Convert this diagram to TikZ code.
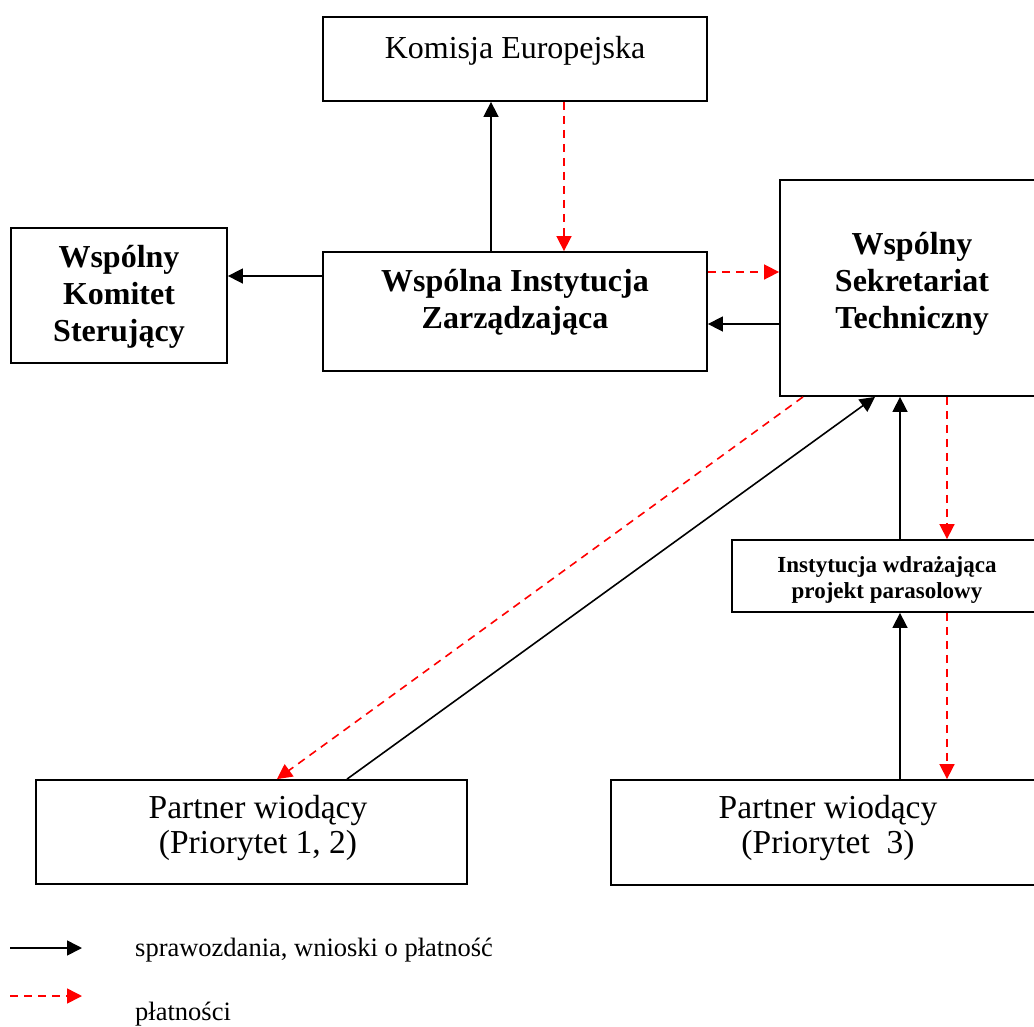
\documentclass[tikz,border=0pt]{standalone}
\usepackage{fontspec}
\setmainfont{Liberation Serif}
\usetikzlibrary{arrows.meta}
\tikzset{
  box/.style={draw=black, line width=1.8pt, fill=white, inner sep=0pt},
  txt/.style={inner sep=0pt, align=center},
  rep/.style={line width=1.6pt, draw=black, -{Triangle[length=15pt,width=15pt]}},
  pay/.style={line width=1.6pt, draw=red, dash pattern=on 8pt off 6pt, -{Triangle[length=15pt,width=15pt]}},
  big/.style={font=\fontsize{32}{37}\selectfont},
  bigb/.style={font=\fontsize{32}{37}\selectfont\bfseries},
  part/.style={font=\fontsize{33.5}{35}\selectfont},
  small/.style={font=\fontsize{23}{26}\selectfont\bfseries},
  leg/.style={font=\fontsize{26.5}{30}\selectfont, anchor=west, inner sep=0pt}
}
\begin{document}
\begin{tikzpicture}[x=1pt,y=-1pt]
\useasboundingbox (0,0) rectangle (1034,1026);
\fill[white] (0,0) rectangle (1034,1026);
\begin{scope}
\clip (0,0) rectangle (1034,1026);
% boxes
\node[box, minimum width=384pt, minimum height=84pt] (ke) at (515,59) {};
\node[box, minimum width=216pt, minimum height=135pt] (wks) at (119,295.5) {};
\node[box, minimum width=384pt, minimum height=119pt] (wiz) at (515,311.5) {};
\node[box, minimum width=264pt, minimum height=216pt] (wst) at (912,288) {};
\node[box, minimum width=310pt, minimum height=72pt] (inst) at (887,576) {};
\node[box, minimum width=431pt, minimum height=104pt] (p1) at (251.5,832) {};
\node[box, minimum width=434pt, minimum height=105pt] (p3) at (828,832.5) {};
% texts
\node[txt, big] (tke) at (515,51) {Komisja Europejska};
\node[txt, bigb] (twks) at (119,297) {Wspólny\\Komitet\\Sterujący};
\node[txt, bigb] (twiz) at (515,302) {Wspólna Instytucja\\Zarządzająca};
\node[txt, bigb] (twst) at (912,284) {Wspólny\\Sekretariat\\Techniczny};
\node[txt, small] (tinst) at (887,580) {Instytucja wdrażająca\\projekt parasolowy};
\node[txt, part] (tp1) at (258,828) {Partner wiodący\\(Priorytet 1, 2)};
\node[txt, part] (tp3) at (828,828) {Partner wiodący\\(Priorytet~~3)};
% anchor coordinates
\coordinate (a1) at ([xshift=-24pt]wiz.north);
\coordinate (a2) at ([xshift=49pt]ke.south);
\coordinate (a3) at ([yshift=35.5pt]wiz.west);
\coordinate (a4) at ([yshift=39.5pt]wiz.east);
\coordinate (a5) at ([yshift=-36pt]wst.west);
\coordinate (d1) at ([xshift=-109pt]wst.south);
\coordinate (d2) at ([xshift=25.5pt]p1.north);
\coordinate (d3) at ([xshift=95.5pt]p1.north);
\coordinate (d4) at ([xshift=-37pt]wst.south);
\coordinate (v1) at ([xshift=13pt]inst.north);
\coordinate (v2) at ([xshift=60pt]inst.north);
\coordinate (v3) at ([xshift=13pt]inst.south);
\coordinate (v4) at ([xshift=60pt]inst.south);
% connectors
\draw[rep] (a1) -- (a1 |- ke.south);
\draw[pay] (a2) -- (a2 |- wiz.north);
\draw[rep] (a3) -- (a3 -| wks.east);
\draw[pay] (a4) -- (a4 -| wst.west);
\draw[rep] (a5) -- (a5 -| wiz.east);
\draw[pay] (d1) -- (d2);
\draw[rep] (d3) -- (d4);
\draw[rep] (v1) -- (v1 |- wst.south);
\draw[pay] (v2 |- wst.south) -- (v2);
\draw[rep] (v3 |- p3.north) -- (v3);
\draw[pay] (v4) -- (v4 |- p3.north);
% legend
\coordinate (l1) at (10,948);
\coordinate (l2) at (82,948);
\coordinate (l3) at (10,996);
\coordinate (l4) at (82,996);
\draw[rep] (l1) -- (l2);
\draw[pay] (l3) -- (l4);
\node[leg] (leg1) at (135,950) {sprawozdania, wnioski o płatność};
\node[leg] (leg2) at (135,1014) {płatności};
\end{scope}
\end{tikzpicture}
\end{document}
